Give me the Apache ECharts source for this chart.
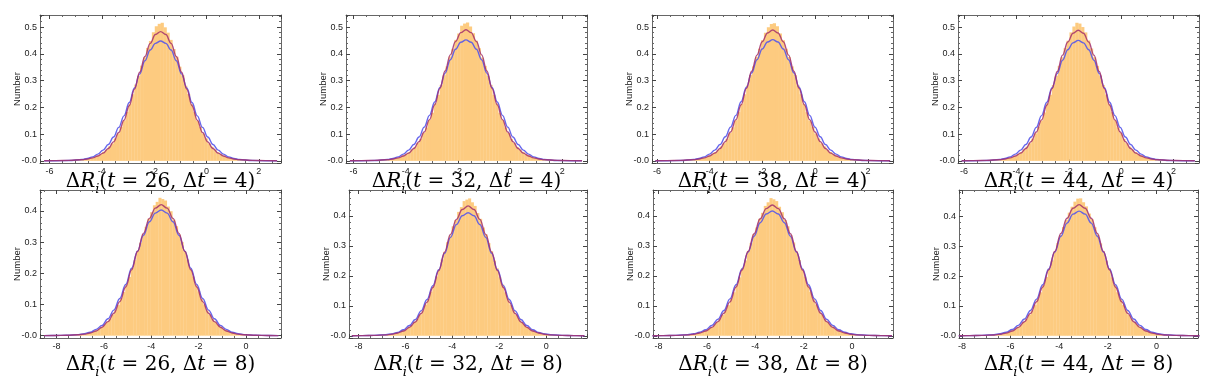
<!DOCTYPE html>
<html><head><meta charset="utf-8">
<script src="https://cdn.jsdelivr.net/npm/echarts@6/dist/echarts.min.js"></script>
<style>html,body{margin:0;background:#fff}#c{width:1216px;height:380px}</style>
</head><body><div id="c"></div>
<script>
// ---- data ----
const panelT = [26, 32, 38, 44, 26, 32, 38, 44];
const panelDt = [4, 4, 4, 4, 8, 8, 8, 8];
const centers = [-1.75, -1.69, -1.61, -1.64, -3.58, -3.33, -3.30, -3.18];
const xMins = [-6.36, -6.29, -6.19, -6.23, -8.70, -8.40, -8.23, -8.12];
const xMaxs = [2.85, 2.95, 2.95, 2.97, 1.48, 1.73, 1.69, 1.71];
const yMins = [-0.008, -0.008, -0.008, -0.008, -0.0075, -0.0075, -0.0075, -0.0075];
const yMaxs = [0.545, 0.545, 0.545, 0.545, 0.467, 0.486, 0.486, 0.489];
const binWidths = [0.112, 0.112, 0.112, 0.112, 0.117, 0.117, 0.117, 0.117];
const histStarts = [-5.67, -5.61, -5.53, -5.56, -8.26, -8.01, -7.98, -7.86];

const hist1 = [0.001,0.001,0.002,0.002,0.002,0.003,0.004,0.004,0.006,0.007,0.009,0.012,0.016,0.020,0.025,0.034,0.042,0.054,0.065,0.084,0.102,0.127,0.151,0.183,0.213,0.249,0.285,0.318,0.356,0.387,0.422,0.448,0.481,0.503,0.512,
  0.516,0.499,0.479,0.452,0.418,0.389,0.352,0.320,0.281,0.250,0.212,0.182,0.150,0.127,0.102,0.084,0.065,0.053,0.043,0.032,0.026,0.019,0.015,0.012,0.009,0.007,0.005,0.005,0.004,0.003,0.002,0.002,0.002,0.001,0.001];
const hist2 = [0.001,0.001,0.001,0.002,0.002,0.003,0.003,0.005,0.005,0.007,0.009,0.011,0.015,0.021,0.026,0.032,0.043,0.052,0.067,0.082,0.104,0.125,0.153,0.180,0.215,0.247,0.284,0.320,0.353,0.390,0.419,0.452,0.476,0.505,0.513,
  0.517,0.502,0.477,0.449,0.421,0.386,0.355,0.318,0.284,0.247,0.215,0.180,0.153,0.125,0.104,0.082,0.067,0.052,0.042,0.034,0.025,0.021,0.015,0.011,0.009,0.007,0.006,0.004,0.004,0.003,0.002,0.002,0.001,0.001,0.001];
const hist3 = [0.001,0.001,0.002,0.002,0.003,0.003,0.004,0.004,0.005,0.007,0.010,0.012,0.014,0.020,0.027,0.033,0.041,0.054,0.066,0.082,0.104,0.125,0.152,0.182,0.213,0.249,0.282,0.321,0.353,0.389,0.419,0.451,0.479,0.499,0.511,
  0.514,0.503,0.476,0.451,0.419,0.388,0.353,0.321,0.282,0.249,0.213,0.182,0.151,0.127,0.102,0.084,0.065,0.054,0.041,0.033,0.026,0.020,0.016,0.011,0.009,0.007,0.005,0.005,0.003,0.003,0.002,0.002,0.001,0.001,0.001];
const hist4 = [0.001,0.001,0.001,0.002,0.003,0.003,0.004,0.005,0.005,0.007,0.009,0.012,0.015,0.019,0.026,0.033,0.043,0.053,0.066,0.083,0.103,0.127,0.151,0.181,0.215,0.247,0.284,0.318,0.355,0.387,0.421,0.449,0.480,0.502,0.516,
  0.513,0.500,0.480,0.450,0.420,0.387,0.355,0.319,0.283,0.248,0.213,0.182,0.152,0.125,0.104,0.082,0.066,0.053,0.042,0.033,0.026,0.020,0.015,0.012,0.009,0.007,0.005,0.004,0.004,0.003,0.002,0.002,0.001,0.001,0.001];
const hist5 = [0.0004,0.0005,0.0006,0.0008,0.001,0.001,0.0015,0.002,0.0024,0.003,0.004,0.005,0.006,0.008,0.011,0.013,0.017,0.023,0.028,0.036,0.045,0.054,0.068,0.083,0.098,0.120,0.140,0.165,0.188,0.217,0.242,0.272,0.298,0.326,0.349,0.375,0.396,0.418,0.429,0.442,
  0.438,0.433,0.414,0.399,0.372,0.351,0.324,0.300,0.270,0.244,0.215,0.190,0.163,0.142,0.118,0.100,0.081,0.068,0.054,0.045,0.035,0.029,0.022,0.018,0.013,0.011,0.008,0.006,0.005,0.004,0.003,0.002,0.002,0.0015,0.001,0.001,0.0008,0.0006,0.0005,0.0004];
const hist6 = [0.0004,0.0005,0.0007,0.0008,0.001,0.0012,0.0016,0.002,0.0024,0.003,0.004,0.005,0.007,0.008,0.011,0.015,0.018,0.022,0.031,0.036,0.047,0.056,0.071,0.084,0.104,0.122,0.147,0.169,0.198,0.222,0.254,0.280,0.312,0.335,0.365,0.386,0.413,0.429,0.449,0.454,
  0.458,0.445,0.433,0.409,0.390,0.361,0.338,0.309,0.282,0.251,0.225,0.195,0.171,0.145,0.124,0.102,0.086,0.069,0.058,0.045,0.038,0.029,0.023,0.018,0.014,0.011,0.008,0.007,0.005,0.004,0.003,0.0025,0.002,0.0015,0.0012,0.001,0.0008,0.0006,0.0005,0.0004];
const hist7 = [0.0004,0.0005,0.0006,0.0008,0.001,0.0012,0.0015,0.002,0.0026,0.003,0.004,0.005,0.006,0.009,0.011,0.014,0.019,0.023,0.029,0.038,0.046,0.058,0.069,0.086,0.102,0.124,0.145,0.171,0.195,0.226,0.251,0.283,0.309,0.339,0.361,0.390,0.410,0.433,0.445,0.459,
  0.455,0.449,0.430,0.412,0.386,0.365,0.335,0.311,0.280,0.253,0.223,0.197,0.169,0.147,0.122,0.104,0.084,0.071,0.056,0.047,0.036,0.031,0.022,0.019,0.013,0.011,0.009,0.006,0.005,0.004,0.003,0.0024,0.002,0.0015,0.0012,0.001,0.0008,0.0006,0.0005,0.0004];
const hist8 = [0.0004,0.0005,0.0006,0.0008,0.001,0.0012,0.0015,0.002,0.0025,0.003,0.004,0.005,0.0065,0.008,0.011,0.014,0.018,0.024,0.030,0.037,0.046,0.057,0.071,0.085,0.103,0.124,0.146,0.171,0.197,0.225,0.253,0.282,0.311,0.338,0.365,0.389,0.413,0.433,0.450,0.460,
  0.461,0.448,0.434,0.410,0.391,0.364,0.339,0.310,0.283,0.252,0.226,0.196,0.171,0.146,0.124,0.103,0.085,0.070,0.057,0.046,0.037,0.030,0.023,0.018,0.014,0.011,0.0085,0.0065,0.005,0.004,0.003,0.0025,0.002,0.0015,0.0012,0.001,0.0008,0.0006,0.0005,0.0004];

// curve sample offsets from each panel's centre
const offsetsRow1 = [-4.45,-4,-3.5,-3,-2.8,-2.6,-2.4,-2.2,-2,-1.8,-1.6,-1.4,-1.2,-1,-0.8,-0.6,-0.4,-0.2,0,0.2,0.4,0.6,0.8,1,1.2,1.4,1.6,1.8,2,2.2,2.4,2.6,2.8,3,3.5,4,4.45];
const offsetsRow2 = [-4.95,-4.5,-4,-3.5,-3.25,-3,-2.75,-2.5,-2.25,-2,-1.75,-1.5,-1.25,-1,-0.75,-0.5,-0.25,0,0.25,0.5,0.75,1,1.25,1.5,1.75,2,2.25,2.5,2.75,3,3.25,3.5,4,4.5,4.95];

const blue1 = [0.0002,0.0004,0.0012,0.005,0.009,0.015,0.025,0.040,0.061,0.089,0.125,0.168,0.218,0.272,0.325,0.374,0.414,0.439,0.448,0.439,0.414,0.374,0.325,0.272,0.218,0.168,0.125,0.089,0.061,0.040,0.025,0.015,0.009,0.005,0.0012,0.0004,0.0002];
const blue2 = [0.0002,0.0004,0.0012,0.005,0.009,0.015,0.025,0.040,0.061,0.089,0.126,0.170,0.220,0.274,0.328,0.378,0.417,0.443,0.452,0.443,0.417,0.378,0.328,0.274,0.220,0.170,0.126,0.089,0.061,0.040,0.025,0.015,0.009,0.005,0.0012,0.0004,0.0002];
const blue3 = [0.0002,0.0004,0.0012,0.005,0.009,0.015,0.025,0.040,0.061,0.090,0.126,0.170,0.221,0.275,0.329,0.378,0.418,0.444,0.453,0.444,0.418,0.378,0.329,0.275,0.221,0.170,0.126,0.090,0.061,0.040,0.025,0.015,0.009,0.005,0.0012,0.0004,0.0002];
const blue4 = [0.0002,0.0004,0.0012,0.005,0.009,0.015,0.025,0.040,0.061,0.089,0.125,0.169,0.219,0.273,0.327,0.376,0.415,0.441,0.450,0.441,0.415,0.376,0.327,0.273,0.219,0.169,0.125,0.089,0.061,0.040,0.025,0.015,0.009,0.005,0.0012,0.0004,0.0002];
const red1 = [0.0003,0.0007,0.0018,0.0045,0.007,0.011,0.018,0.029,0.046,0.071,0.106,0.152,0.206,0.268,0.331,0.390,0.439,0.472,0.483,0.472,0.439,0.390,0.331,0.268,0.206,0.152,0.106,0.071,0.046,0.029,0.018,0.011,0.007,0.0045,0.0018,0.0007,0.0003];
const red2 = [0.0003,0.0007,0.0018,0.0045,0.007,0.011,0.018,0.029,0.046,0.072,0.108,0.154,0.209,0.271,0.336,0.396,0.446,0.479,0.490,0.479,0.446,0.396,0.336,0.271,0.209,0.154,0.108,0.072,0.046,0.029,0.018,0.011,0.007,0.0045,0.0018,0.0007,0.0003];
const red3 = [0.0003,0.0007,0.0018,0.0045,0.007,0.011,0.018,0.029,0.046,0.072,0.108,0.154,0.209,0.271,0.335,0.395,0.445,0.478,0.489,0.478,0.445,0.395,0.335,0.271,0.209,0.154,0.108,0.072,0.046,0.029,0.018,0.011,0.007,0.0045,0.0018,0.0007,0.0003];
const red4 = [0.0003,0.0007,0.0018,0.0045,0.007,0.011,0.018,0.029,0.046,0.072,0.108,0.153,0.208,0.270,0.334,0.395,0.444,0.477,0.488,0.477,0.444,0.395,0.334,0.270,0.208,0.153,0.108,0.072,0.046,0.029,0.018,0.011,0.007,0.0045,0.0018,0.0007,0.0003];
const blue5 = [0.0002,0.0004,0.0012,0.0034,0.0063,0.011,0.020,0.033,0.054,0.082,0.119,0.164,0.216,0.271,0.322,0.365,0.393,0.403,0.393,0.365,0.322,0.271,0.216,0.164,0.119,0.082,0.054,0.033,0.020,0.011,0.0063,0.0034,0.0012,0.0004,0.0002];
const blue6 = [0.0002,0.0004,0.0012,0.0035,0.0064,0.011,0.020,0.034,0.054,0.083,0.121,0.167,0.220,0.275,0.328,0.371,0.400,0.410,0.400,0.371,0.328,0.275,0.220,0.167,0.121,0.083,0.054,0.034,0.020,0.011,0.0064,0.0035,0.0012,0.0004,0.0002];
const blue7 = [0.0002,0.0004,0.0012,0.0035,0.0065,0.0115,0.020,0.034,0.055,0.084,0.123,0.170,0.223,0.279,0.332,0.377,0.406,0.416,0.406,0.377,0.332,0.279,0.223,0.170,0.123,0.084,0.055,0.034,0.020,0.0115,0.0065,0.0035,0.0012,0.0004,0.0002];
const blue8 = [0.0002,0.0004,0.0012,0.0035,0.0066,0.012,0.021,0.035,0.056,0.085,0.123,0.171,0.224,0.281,0.334,0.378,0.408,0.418,0.408,0.378,0.334,0.281,0.224,0.171,0.123,0.085,0.056,0.035,0.021,0.012,0.0066,0.0035,0.0012,0.0004,0.0002];
const red5 = [0.0002,0.0005,0.0012,0.0027,0.0048,0.0085,0.015,0.027,0.045,0.072,0.109,0.156,0.211,0.270,0.328,0.376,0.409,0.420,0.409,0.376,0.328,0.270,0.211,0.156,0.109,0.072,0.045,0.027,0.015,0.0085,0.0048,0.0027,0.0012,0.0005,0.0002];
const red6 = [0.0002,0.0005,0.0012,0.0028,0.005,0.009,0.016,0.028,0.046,0.074,0.112,0.161,0.217,0.279,0.338,0.388,0.421,0.433,0.421,0.388,0.338,0.279,0.217,0.161,0.112,0.074,0.046,0.028,0.016,0.009,0.005,0.0028,0.0012,0.0005,0.0002];
const red7 = [0.0002,0.0005,0.0012,0.0028,0.005,0.009,0.016,0.028,0.047,0.075,0.113,0.162,0.219,0.281,0.340,0.390,0.424,0.436,0.424,0.390,0.340,0.281,0.219,0.162,0.113,0.075,0.047,0.028,0.016,0.009,0.005,0.0028,0.0012,0.0005,0.0002];
const red8 = [0.0002,0.0005,0.0012,0.0028,0.005,0.009,0.016,0.028,0.047,0.075,0.114,0.163,0.221,0.283,0.343,0.394,0.428,0.440,0.428,0.394,0.343,0.283,0.221,0.163,0.114,0.075,0.047,0.028,0.016,0.009,0.005,0.0028,0.0012,0.0005,0.0002];

const hists = [hist1, hist2, hist3, hist4, hist5, hist6, hist7, hist8];
const blues = [blue1, blue2, blue3, blue4, blue5, blue6, blue7, blue8];
const reds = [red1, red2, red3, red4, red5, red6, red7, red8];

// ---- layout / style ----
const gridPos = [[40,15,241,148],[346,15,241,148],[652,15,241,148],[958,15,241,148],
                 [40,190,241,148],[349,190,238,148],[653,190,240,148],[959,190,239,148]];
const frameColor = '#666';
const labelFont = 'Liberation Sans';
const serif = 'DejaVu Serif';

const grids = [], xAxes = [], yAxes = [], series = [];
for (let i = 0; i < 8; i++) {
  const [l, t, w, h] = gridPos[i];
  grids.push({left: l, top: t, width: w, height: h, containLabel: false});
  const row = i < 4 ? 0 : 1;
  const common = {
    gridIndex: i, type: 'value', min: xMins[i], max: xMaxs[i], splitNumber: 5,
    axisLine: {show: true, onZero: false, lineStyle: {color: frameColor, width: 1}},
    axisTick: {show: true, inside: true, length: 4, lineStyle: {color: '#444'}},
    minorTick: {show: true, splitNumber: 4, length: 2, lineStyle: {color: '#666'}},
    splitLine: {show: false}, minorSplitLine: {show: false}
  };
  const mainStyle = {fontFamily: serif, fontSize: 20, color: '#000', padding: [0,0,4,0], verticalAlign: 'bottom'};
  const itStyle = Object.assign({}, mainStyle, {fontStyle: 'italic'});
  xAxes.push(Object.assign({}, common, {
    position: 'bottom',
    axisLabel: {show: true, fontFamily: labelFont, fontSize: 9, color: '#222', margin: 4,
                showMinLabel: false, showMaxLabel: false},
    name: '{m|Δ}{i|R}{s|i}{m|(}{i|t}{m| = ' + panelT[i] + ', Δ}{i|t}{m| = ' + panelDt[i] + ')}',
    nameLocation: 'middle', nameGap: row === 0 ? 9 : 17, nameMoveOverlap: false,
    nameTextStyle: {rich: {
      m: mainStyle, i: itStyle,
      s: {fontFamily: serif, fontSize: 13, fontStyle: 'italic', color: '#000', verticalAlign: 'bottom'}
    }}
  }));
  xAxes.push(Object.assign({}, common, {position: 'top', axisLabel: {show: false}}));
  const ycommon = {
    gridIndex: i, type: 'value', min: yMins[i], max: yMaxs[i], splitNumber: 5,
    axisLine: {show: true, onZero: false, lineStyle: {color: frameColor, width: 1}},
    axisTick: {show: true, inside: true, length: 4, lineStyle: {color: '#444'}},
    minorTick: {show: true, splitNumber: 5, length: 2, lineStyle: {color: '#666'}},
    splitLine: {show: false}, minorSplitLine: {show: false}
  };
  yAxes.push(Object.assign({}, ycommon, {
    position: 'left',
    axisLabel: {show: true, fontFamily: labelFont, fontSize: 9, color: '#222', margin: 3,
                showMinLabel: false, showMaxLabel: false,
                formatter: v => (Math.abs(v) < 1e-9 ? '-0.0' : v.toFixed(1))},
    name: 'Number', nameLocation: 'middle', nameGap: 18, nameRotate: 90, nameMoveOverlap: false,
    nameTextStyle: {fontFamily: labelFont, fontSize: 9.5, color: '#222'}
  }));
  yAxes.push(Object.assign({}, ycommon, {position: 'right', axisLabel: {show: false}}));

  const bw = binWidths[i];
  const hd = hists[i].map((v, k) => [histStarts[i] + k * bw, histStarts[i] + (k + 1) * bw, v]);
  series.push({
    type: 'custom', xAxisIndex: 2 * i, yAxisIndex: 2 * i, data: hd, clip: true, silent: true,
    encode: {x: [0, 1], y: 2},
    renderItem: (params, api) => {
      const p0 = api.coord([api.value(0), api.value(2)]);
      const p1 = api.coord([api.value(1), 0]);
      return {type: 'rect', shape: {x: p0[0], y: p0[1], width: p1[0] - p0[0] + 0.3, height: p1[1] - p0[1]},
              style: {fill: '#FDCB80'}};
    }
  });
  const offs = row === 0 ? offsetsRow1 : offsetsRow2;
  series.push({
    type: 'line', xAxisIndex: 2 * i, yAxisIndex: 2 * i, showSymbol: false, smooth: 0.4, smoothMonotone: 'x',
    data: offs.map((o, k) => [centers[i] + o, blues[i][k]]), clip: true, silent: true,
    lineStyle: {color: '#5656ea', width: 1.4, opacity: 0.9}
  });
  series.push({
    type: 'line', xAxisIndex: 2 * i, yAxisIndex: 2 * i, showSymbol: false, smooth: 0.4, smoothMonotone: 'x',
    data: offs.map((o, k) => [centers[i] + o, reds[i][k]]), clip: true, silent: true,
    lineStyle: {color: '#a2306c', width: 1.4, opacity: 0.85}
  });
}

const chart = echarts.init(document.getElementById('c'), null, {renderer: 'canvas'});
chart.setOption({
  animation: false, backgroundColor: '#fff',
  grid: grids, xAxis: xAxes, yAxis: yAxes, series: series
});
</script></body></html>
